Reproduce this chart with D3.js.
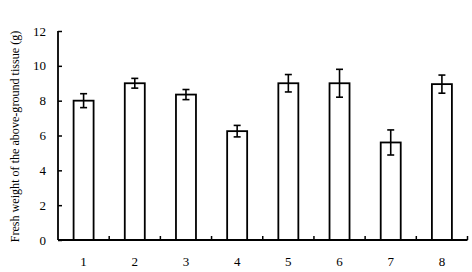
<!DOCTYPE html>
<html><head><meta charset="utf-8">
<script src="https://cdn.jsdelivr.net/npm/d3@7"></script>
<style>body{margin:0;background:#fff}svg{display:block}</style>
</head><body>
<script>
const categories = ["1","2","3","4","5","6","7","8"];
const values = [8.0, 9.0, 8.35, 6.25, 9.0, 9.0, 5.6, 8.95];
const errors = [0.4, 0.28, 0.29, 0.33, 0.5, 0.8, 0.72, 0.52];
const yTicks = [0, 2, 4, 6, 8, 10, 12];
const yLabel = "Fresh weight of the above-ground tissue (g)";

const W = 472, H = 272;
const m = {left: 58, right: 4.5, top: 31, bottom: 32};
const svg = d3.select("body").append("svg").attr("width", W).attr("height", H);
const font = "'Liberation Serif','Times New Roman',Times,serif";

const xb = d3.scaleBand().domain(categories).range([m.left, W - m.right]);
const y = d3.scaleLinear().domain([0, 12]).range([H - m.bottom, m.top]);

// bars
svg.selectAll("rect.bar").data(values).enter().append("rect")
  .attr("x", (d, i) => xb(categories[i]) + xb.bandwidth() / 2 - 10)
  .attr("width", 20)
  .attr("y", d => y(d))
  .attr("height", d => y(0) - y(d))
  .attr("fill", "#fff").attr("stroke", "#000").attr("stroke-width", 1.8);

// error bars
const eg = svg.append("g").attr("stroke", "#000").attr("stroke-width", 1.6);
values.forEach((v, i) => {
  const cx = xb(categories[i]) + xb.bandwidth() / 2;
  eg.append("line").attr("x1", cx).attr("x2", cx).attr("y1", y(v + errors[i])).attr("y2", y(v - errors[i]));
  eg.append("line").attr("x1", cx - 3.5).attr("x2", cx + 3.5).attr("y1", y(v + errors[i])).attr("y2", y(v + errors[i]));
  eg.append("line").attr("x1", cx - 3.5).attr("x2", cx + 3.5).attr("y1", y(v - errors[i])).attr("y2", y(v - errors[i]));
});

// y axis
const yAxis = d3.axisRight(y).tickValues(yTicks).tickSize(4).tickFormat("");
const gy = svg.append("g").attr("transform", `translate(${m.left},0)`).call(yAxis);
gy.select(".domain").remove();
gy.selectAll(".tick line").attr("stroke", "#000").attr("stroke-width", 1.5);
svg.append("line").attr("x1", m.left).attr("x2", m.left).attr("y1", y(12)).attr("y2", y(0))
  .attr("stroke", "#000").attr("stroke-width", 1.8);
svg.append("g").selectAll("text").data(yTicks).enter().append("text")
  .attr("x", m.left - 12).attr("y", d => y(d)).attr("dy", "0.35em")
  .attr("text-anchor", "end").attr("font-family", font).attr("font-size", 13).text(d => d);

// x axis
svg.append("line").attr("x1", m.left).attr("x2", W - m.right).attr("y1", y(0)).attr("y2", y(0))
  .attr("stroke", "#000").attr("stroke-width", 1.8);
const sepTicks = categories.map(c => xb(c) + xb.bandwidth());
svg.append("g").selectAll("line").data(sepTicks).enter().append("line")
  .attr("x1", d => d).attr("x2", d => d).attr("y1", y(0)).attr("y2", y(0) - 4)
  .attr("stroke", "#000").attr("stroke-width", 1.5);
svg.append("g").selectAll("text").data(categories).enter().append("text")
  .attr("x", d => xb(d) + xb.bandwidth() / 2).attr("y", y(0) + 26)
  .attr("text-anchor", "middle").attr("font-family", font).attr("font-size", 13).text(d => d);

// y label
svg.append("text").attr("transform", `translate(18.5,${(y(0) + y(12)) / 2 + 1}) rotate(-90)`)
  .attr("text-anchor", "middle").attr("font-family", font).attr("font-size", 12.1).text(yLabel);
</script>
</body></html>
